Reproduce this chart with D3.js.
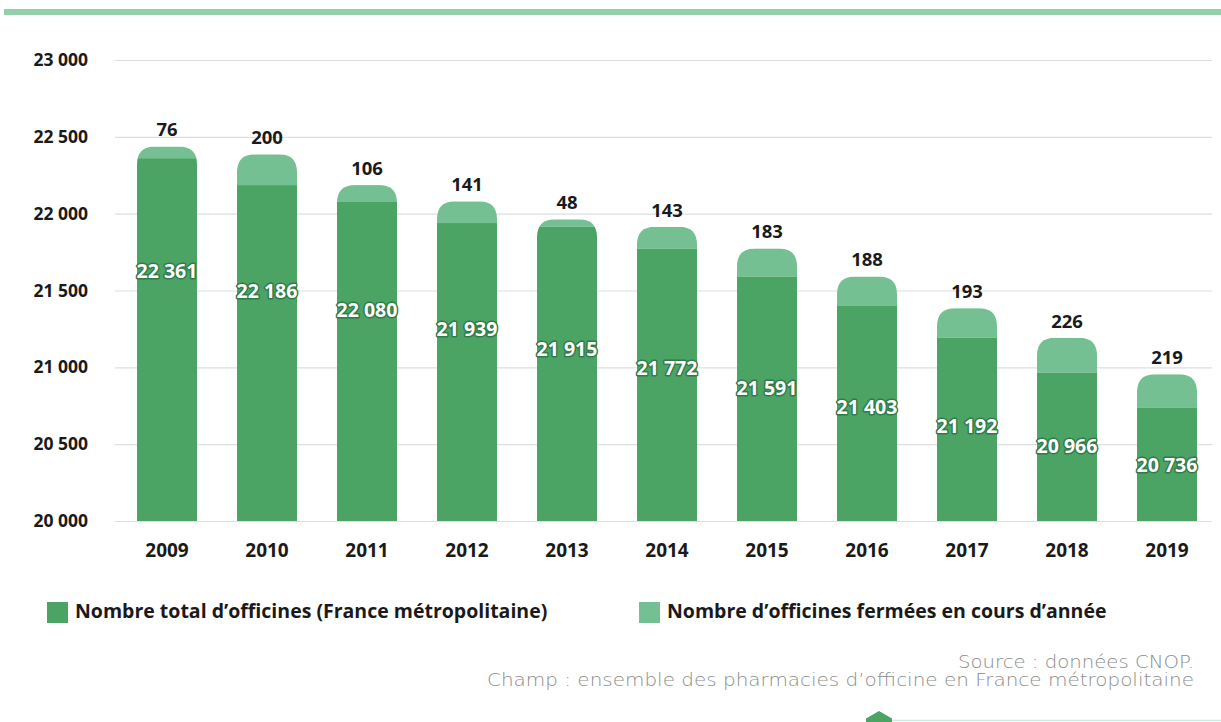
<!DOCTYPE html>
<html><head><meta charset="utf-8">
<script src="https://cdn.jsdelivr.net/npm/d3@7"></script>
<style>
html,body{margin:0;padding:0;background:#fff;}
svg{display:block;}
</style></head>
<body>
<svg id="chart" width="1221" height="722"></svg>
<script>
const years = ["2009","2010","2011","2012","2013","2014","2015","2016","2017","2018","2019"];
const totals = [22361,22186,22080,21939,21915,21772,21591,21403,21192,20966,20736];
const closed = [76,200,106,141,48,143,183,188,193,226,219];
const yTicks = [20000,20500,21000,21500,22000,22500,23000];
const legendLabels = ["Nombre total d\u2019officines (France métropolitaine)","Nombre d\u2019officines fermées en cours d\u2019année"];
const sourceLines = ["Source : données CNOP.","Champ : ensemble des pharmacies d\u2019officine en France métropolitaine"];

const DARK = "#4ba364", LIGHT = "#75c092", TEXT = "#1a1a1a";
const svg = d3.select("#chart");
svg.append("rect").attr("width",1221).attr("height",722).attr("fill","#fff");

// top stripe
svg.append("rect").attr("x",4).attr("y",9).attr("width",1217).attr("height",6).attr("fill","#93cfa8");

const y = d3.scaleLinear().domain([20000,23000]).range([521,60]);
const x = d3.scaleBand().domain(years).range([117,1217]).paddingInner(0.4).paddingOuter(0.2);
const fmt = v => d3.format(",")(v).replace(",", " ");

// y axis + grid
const gY = svg.append("g").attr("transform","translate(115,0)")
  .call(d3.axisLeft(y).tickValues(yTicks).tickSize(-(1212-115)).tickPadding(27).tickFormat(fmt));
gY.select(".domain").remove();
gY.selectAll("line").attr("stroke","#dedede").attr("stroke-width",1.2);
gY.selectAll("text").attr("fill",TEXT).attr("font-family","Open Sans").attr("font-weight",700).attr("font-size",17.5);

// x axis labels
const gX = svg.append("g").attr("transform","translate(0,521)")
  .call(d3.axisBottom(x).tickSize(0).tickPadding(23));
gX.select(".domain").remove();
gX.selectAll("text").attr("fill",TEXT).attr("font-family","Open Sans").attr("font-weight",700).attr("font-size",19);

function roundedTop(x0,y0,w,h,r){
  r = Math.min(r,w/2,h);
  return `M${x0},${y0+h}V${y0+r}Q${x0},${y0} ${x0+r},${y0}H${x0+w-r}Q${x0+w},${y0} ${x0+w},${y0+r}V${y0+h}Z`;
}

const data = years.map((yr,i)=>({yr,i,total:totals[i],closed:closed[i]}));
const defs = svg.append("defs");
const bw = x.bandwidth(), R = 18;
data.forEach(d=>{
  const top = y(d.total + d.closed), bottom = y(20000);
  defs.append("clipPath").attr("id","clip"+d.yr)
    .append("path").attr("d", roundedTop(x(d.yr), top, bw, bottom-top, R));
});
const bars = svg.append("g").selectAll("g").data(data).join("g")
  .attr("clip-path", d=>`url(#clip${d.yr})`);
bars.append("rect").attr("x",d=>x(d.yr)).attr("width",bw)
  .attr("y",d=>y(d.total+d.closed)).attr("height",d=>y(d.total)-y(d.total+d.closed)).attr("fill",LIGHT);
bars.append("rect").attr("x",d=>x(d.yr)).attr("width",bw)
  .attr("y",d=>y(d.total)).attr("height",d=>y(20000)-y(d.total)).attr("fill",DARK);

// closed labels above
svg.append("g").selectAll("text").data(data).join("text")
  .attr("x",d=>x(d.yr)+bw/2).attr("y",d=>y(d.total+d.closed)-15)
  .attr("text-anchor","middle").attr("dominant-baseline","middle")
  .attr("font-family","Open Sans").attr("font-weight",700).attr("font-size",18.5)
  .attr("fill",TEXT).text(d=>d.closed);

// total labels inside (staggered)
const labelY = d3.scaleLinear().domain([0,years.length-1]).range([273,467]);
svg.append("g").selectAll("text").data(data).join("text")
  .attr("x",d=>x(d.yr)+bw/2).attr("y",d=>labelY(d.i))
  .attr("text-anchor","middle").attr("dominant-baseline","middle")
  .attr("font-family","Open Sans").attr("font-weight",700).attr("font-size",19.5)
  .attr("fill","#fff").attr("stroke","#2f7b49").attr("stroke-width",3).attr("paint-order","stroke")
  .attr("stroke-linejoin","round")
  .text(d=>fmt(d.total));

// legend
const legend = [{x:47,c:DARK,t:legendLabels[0]},{x:639,c:LIGHT,t:legendLabels[1]}];
const lg = svg.append("g").selectAll("g").data(legend).join("g");
lg.append("rect").attr("x",d=>d.x).attr("y",602).attr("width",21).attr("height",21).attr("fill",d=>d.c);
lg.append("text").attr("x",d=>d.x+28).attr("y",613).attr("dominant-baseline","middle")
  .attr("font-family","Open Sans").attr("font-weight",700).attr("font-size",19.5)
  .attr("fill",TEXT).text(d=>d.t);

// source
svg.append("text").attr("x",1194).attr("y",668).attr("text-anchor","end")
  .attr("font-family","DejaVu Sans").attr("font-weight",300).attr("font-size",17.5).attr("fill","#8c8c8c")
  .attr("textLength",236).attr("lengthAdjust","spacingAndGlyphs").text(sourceLines[0]);
svg.append("text").attr("x",1194).attr("y",686).attr("text-anchor","end")
  .attr("font-family","DejaVu Sans").attr("font-weight",300).attr("font-size",17.5).attr("fill","#8c8c8c")
  .attr("textLength",707).attr("lengthAdjust","spacingAndGlyphs").text(sourceLines[1]);

// bottom decoration
const hx=879, hy=726, hr=15;
const hex = d3.range(6).map(k=>{const a=Math.PI/180*(60*k-90);return [hx+hr*Math.cos(a), hy+hr*Math.sin(a)];});
svg.append("line").attr("x1",892).attr("x2",1221).attr("y1",720.5).attr("y2",720.5).attr("stroke","#cfeedd").attr("stroke-width",1.5);
svg.append("polygon").attr("points",hex.map(p=>p.join(",")).join(" ")).attr("fill",DARK);
</script>
</body></html>
